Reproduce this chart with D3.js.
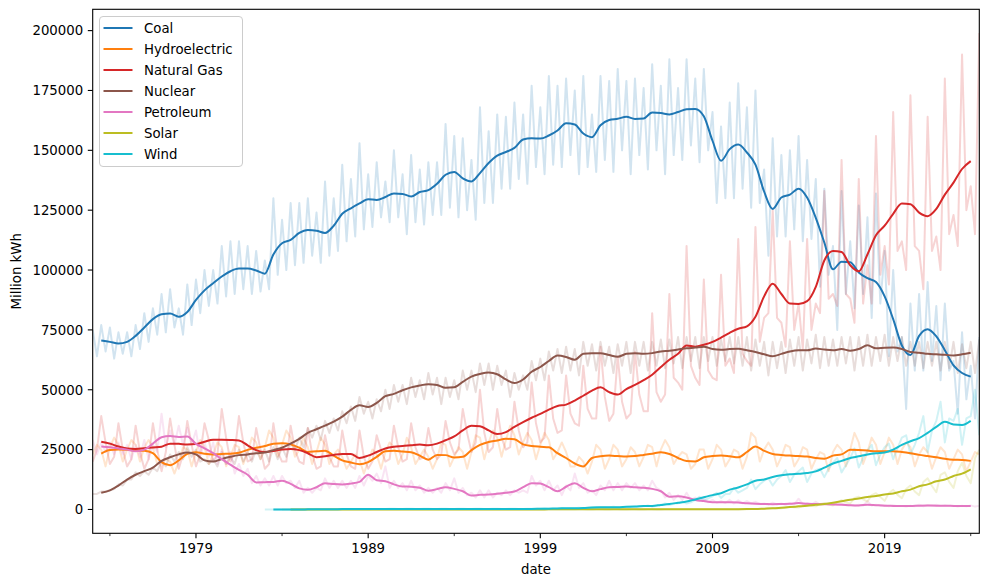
<!DOCTYPE html>
<html><head><meta charset="utf-8">
<script src="https://cdn.jsdelivr.net/npm/d3@7"></script>
<style>
body{margin:0;background:#fff}
svg{display:block}
text{font-family:"DejaVu Sans",sans-serif;fill:#000}
</style>
</head><body>
<svg id="chart" width="989" height="586"></svg>
<script>
// ---------------- DATA (values in thousand million kWh) ----------------
const UNIT = 1000;
const categories = ["Coal","Hydroelectric","Natural Gas","Nuclear","Petroleum","Solar","Wind"];
const colors = ["#1f77b4","#ff7f0e","#d62728","#8c564b","#e377c2","#bcbd22","#17becf"];
const yTickValues = [0,25000,50000,75000,100000,125000,150000,175000,200000];
const majorTickYears = [1979,1989,1999,2009,2019];
const minorTickYears = [1974,1984,1994,2004,2014,2024];
const xDomain = ["1973-01-01","2024-07-01"];

// monthly readings sampled every 3 months (Jan, Apr, Jul, Oct)
const coalRaw = [
75,64,77,66, 76,63,74,65, 74,64,77,67, 82,70,84,73, 90,74,92,76,
84,73,94,77, 96,82,100,85, 100,86,110,89, 112,90,112,92, 110,90,108,91,
104,92,130,98, 121,100,128,102, 128,103,130,106, 124,103,137,106, 130,108,144,112,
138,114,153,117, 140,118,145,122, 137,120,150,122, 140,115,148,120, 142,119,145,123,
145,123,161,126, 156,122,155,125, 146,121,168,128, 158,128,165,134, 164,134,170,138,
165,136,177,143, 168,140,181,144, 177,143,180,148, 175,140,181,143, 165,141,181,146,
179,141,184,150, 179,140,180,148, 176,142,186,150, 177,140,188,148, 176,146,188,152,
180,145,184,150, 166,128,160,130, 170,130,178,134, 168,126,175,128, 142,106,155,114,
148,114,150,117, 156,112,146,113, 138,93,134,98, 110,75,133,90, 112,84,127,90,
122,80,132,86, 108,64,100,66, 72,42,86,58, 90,58,95,62, 85,54,86,58,
62,40,74,46, 60,38,72];
const hydroRaw = [
23,27,25,18, 26,30,27,20, 25,29,27,20, 26,29,26,19, 20,21,20,15,
20,26,25,18, 24,29,26,19, 23,28,26,18, 22,27,26,19, 24,30,28,21,
26,33,30,22, 27,33,30,22, 25,30,26,19, 24,30,27,19, 23,25,22,17,
20,23,21,15, 20,25,23,17, 24,28,26,19, 23,30,26,19, 22,25,22,17,
21,28,27,18, 22,26,24,17, 24,31,30,21, 28,33,30,22, 29,35,31,23,
28,32,29,21, 27,32,29,21, 24,28,24,18, 18,22,20,15, 20,27,25,17,
21,27,25,18, 21,26,24,18, 22,27,26,18, 25,29,26,19, 22,24,23,17,
19,25,25,17, 21,27,25,18, 21,25,24,17, 22,32,30,20, 25,28,25,18,
22,27,26,18, 21,26,25,17, 21,24,23,16, 24,27,25,18, 25,32,28,19,
24,30,27,19, 24,30,27,19, 25,28,26,18, 23,26,24,17, 22,26,24,17,
21,25,23,16, 20,24,23];
const gasRaw = [
20,25,39,28, 19,22,36,25, 18,21,35,24, 17,21,36,25, 16,24,38,27,
17,23,37,27, 18,23,36,29, 20,23,42,30, 20,24,39,28, 20,21,34,25,
17,19,36,24, 20,20,35,25, 20,19,34,23, 17,18,31,22, 18,18,33,23,
18,17,33,22, 17,20,31,25, 20,21,35,26, 20,21,36,26, 21,22,34,25,
21,23,37,28, 23,25,42,32, 24,28,50,32, 24,26,42,30, 25,26,45,33,
26,28,53,36, 28,30,56,38, 32,33,56,40, 36,35,60,42, 38,38,68,47,
37,40,64,45, 38,40,66,48, 41,41,82,49, 45,48,90,55, 53,50,110,60,
55,52,96,58, 55,54,98,60, 63,57,113,65, 62,60,118,70, 80,82,125,80,
78,68,112,75, 86,67,113,75, 86,82,133,88, 90,85,146,90, 88,78,138,86,
102,86,156,98, 110,94,166,108, 112,100,173,110, 108,92,164,108, 114,100,180,115,
123,110,190,125, 135,115,199];
const nuclearRaw = [
6.5,6.5,7.5,7.5, 8,8.5,10.5,10, 12.5,12.5,15.5,14, 16,14.5,17.5,16, 20,18,23,20,
24,21,26,22, 25,20,21,19, 21,18,24,19, 22,19,25,20, 24,20,25,21,
25,20,26,21, 26,22,28,25, 30,26,34,30, 35,29,37,32, 38,33,41,36,
43,37,47,40, 45,38,46,41, 50,42,52,45, 52,44,55,47, 54,46,57,48,
55,44,55,47, 54,46,58,50, 58,49,61,52, 61,50,60,52, 58,47,57,50,
56,50,62,54, 63,54,66,58, 67,57,68,58, 67,56,70,60, 69,58,70,60,
68,57,69,60, 70,57,70,60, 70,58,70,60, 71,59,71,61, 72,59,72,62,
72,59,72,62, 72,60,71,62, 72,61,72,60, 72,58,71,60, 70,56,70,59,
70,57,71,60, 72,58,71,61, 73,59,72,60, 71,60,72,61, 72,58,72,60,
73,60,72,62, 73,60,72,62, 72,60,70,60, 70,59,70,60, 70,58,70,59,
70,57,69,59, 70,57,71];
const petroleumRaw = [
29,23,28,24, 28,23,28,23, 27,21,27,22, 29,21,27,24, 40,26,33,27,
35,27,34,27, 33,22,28,22, 28,19,25,19, 24,15,19,14, 17,11,14,10,
13,10,14,10, 14,11,12,9, 12,7,9,7, 9,8,13,9, 12,9,12,9,
12,9,14,10, 14,12,15,11, 18,9,12,9, 11,8,12,8, 10,7,9,7,
9,7,11,8, 13,7,9,6, 7,5,8,5, 8,5,7,6, 8,6,8,7,
8,7,14,10, 12,8,12,8, 10,6,10,8, 15,9,11,7, 8,6,10,8,
12,8,11,8, 11,9,11,8, 10,8,12,9, 8,5,7,4, 6,4,7,4,
5,3.5,4.5,3, 4,2.8,3.5,2.7, 4,2.5,3.8,2.5, 3.5,2.5,3.2,2.3, 2.5,2,2.8,2.1,
2.5,2,2.6,2.1, 4.5,2.2,2.6,2.1, 3.2,2,2.5,2, 2.3,1.9,2.4,1.8, 2,1.6,2,1.6,
3.5,1.6,2,1.6, 1.8,1.3,1.8,1.4, 1.5,1.2,1.6,1.3, 2,1.3,1.8,1.4, 2,1.4,1.7,1.4,
1.6,1.2,1.6,1.3, 1.7,1.2,1.5];
// solar from 1984-01
const solarRaw = [
0,0,0,0, 0,0,0,0, 0,0,0,0, 0,0,0,0, 0,0,0,0, 0,0,0,0,
0,0,0,0, 0,0,0,0, 0,0,0,0, 0,0,0,0, 0,0,0,0,
0,0,0,0, 0,0,0,0, 0,0,0,0, 0,0,0,0, 0,0,0,0,
0,0,0,0, 0,0.05,0.05,0, 0,0.05,0.05,0, 0,0.05,0.05,0, 0,0.05,0.05,0,
0,0.05,0.05,0, 0,0.05,0.1,0.05, 0.05,0.1,0.1,0.05, 0.05,0.1,0.1,0.05, 0.05,0.1,0.1,0.05,
0.05,0.1,0.15,0.1, 0.1,0.2,0.25,0.2, 0.2,0.4,0.6,0.45, 0.5,0.8,1.1,0.9, 0.8,1.6,1.9,1.5,
1.3,2.3,2.6,2.1, 1.7,3.0,3.9,2.9, 2.5,4.8,5.3,4.2, 3.3,6.0,6.8,5.2, 3.6,6.9,8.2,6.1,
4.7,8.5,10.0,7.5, 6.0,11.5,13.0,9.8, 7.2,14.5,15.5,11.5, 9.0,16.0,19.5,14.0, 11.0,21.5,25.0];
// wind from 1983-01
const windRaw = [
0,0,0,0, 0,0,0,0, 0,0.1,0,0, 0.1,0.1,0.1,0.1, 0.1,0.2,0.1,0.1,
0.1,0.2,0.1,0.1, 0.1,0.2,0.2,0.2, 0.2,0.3,0.3,0.2, 0.2,0.3,0.3,0.2, 0.2,0.3,0.3,0.2,
0.2,0.3,0.3,0.2, 0.2,0.3,0.3,0.2, 0.2,0.3,0.3,0.2, 0.2,0.3,0.3,0.2, 0.2,0.3,0.3,0.2,
0.2,0.3,0.3,0.3, 0.3,0.5,0.4,0.3, 0.4,0.6,0.4,0.5, 0.5,0.7,0.5,0.6, 0.8,1.0,0.8,0.9,
0.8,1.1,0.9,0.9, 1.0,1.4,1.1,1.2, 1.3,1.7,1.2,1.5, 2.0,2.5,1.9,2.4, 2.6,3.3,2.5,3.0,
4.0,5.3,3.8,4.6, 5.5,7.0,4.8,6.5, 6.5,9.0,7.0,8.0, 9.0,12.5,8.5,10.5, 12.0,13.0,10.0,12.5,
14.0,16.5,11.5,14.5, 16.0,17.5,11.5,15.0, 16.5,17.0,13.5,17.0, 19.5,21.5,15.5,18.5, 21.5,25.5,17.5,21.5,
24.5,27.0,18.5,23.0, 26.0,27.5,21.0,25.5, 30.0,31.0,23.0,27.0, 32.0,39.0,24.0,33.0, 37.0,45.0,28.0,38.0,
37.0,42.0,27.0,38.0, 39.0,50.0,31.0];

// 12-month rolling mean, sampled every 6 months (Jan, Jul), starting 1973-07
const coalMean = [70.6,
70.0,69.3, 70.0,72.5, 76.0,79.5, 81.5,81.8, 80.5,82.5, 87.5,91.5, 94.5,97.3, 99.5,100.6, 100.6,99.8, 98.5,106.5,
111.2,112.6, 115.5,116.7, 116.4,115.5, 118.5,123.5, 125.8,127.8, 129.6,129.3, 130.5,132.0, 131.8,130.7, 132.6,133.4, 136.0,139.8,
141.0,138.3, 137.0,140.5, 144.7,147.8, 149.3,151.0, 154.5,155.0, 154.9,156.2, 158.3,161.3, 160.8,157.0, 155.5,160.5, 162.7,163.2,
164.0,163.1, 163.3,165.8, 165.6,165.0, 166.0,167.2, 167.3,164.2, 154.0,145.6, 150.5,152.4, 149.1,144.0, 132.8,125.5, 130.3,131.5,
134.0,130.3, 121.8,111.5, 100.3,103.5, 103.3,99.0, 96.6,95.0, 89.0,79.5, 68.5,64.5, 72.5,75.3, 72.3,66.5, 60.2,57.0, 55.5];
const hydroMean = [23.3,
24.8,25.0, 24.9,24.6, 24.5,23.5, 19.8,18.5, 20.5,23.2, 23.9,23.3, 23.0,23.2, 23.3,23.7, 24.9,25.8, 26.5,27.5,
27.7,27.2, 25.8,24.0, 24.3,24.5, 22.5,20.5, 19.6,18.9, 19.8,22.0, 24.3,24.5, 24.2,23.9, 22.5,20.8, 22.8,22.7,
21.7,22.0, 24.8,27.0, 28.2,28.8, 29.5,29.3, 27.2,26.5, 26.2,26.0, 23.5,21.5, 19.2,18.0, 21.5,22.2, 22.5,22.3,
22.1,22.3, 22.8,23.3, 23.9,23.2, 21.5,20.2, 20.0,21.8, 22.3,22.5, 22.2,21.8, 24.0,26.3, 24.5,23.2, 22.8,22.5,
22.3,22.1, 21.5,21.2, 22.5,23.0, 24.9,24.8, 24.6,24.3, 24.3,24.3, 24.0,23.5, 22.8,22.3, 21.8,21.2, 20.8,20.7, 20.3];
const gasMean = [28.3,
27.5,26.3, 25.5,25.3, 25.6,25.9, 26.2,27.5, 27.4,27.1, 27.3,28.3, 29.1,29.1, 29.0,28.8, 26.8,24.8, 24.0,24.4,
25.0,25.3, 24.8,23.5, 21.8,22.2, 22.8,23.2, 23.2,21.5, 22.5,24.0, 25.5,26.2, 26.5,26.8, 27.1,26.8, 27.5,28.9,
30.5,33.0, 35.0,34.8, 33.0,31.5, 32.3,34.5, 36.5,38.3, 39.9,41.7, 43.2,43.8, 45.5,47.5, 49.6,51.0, 49.0,48.0,
50.3,52.0, 54.0,56.3, 59.5,62.5, 65.0,68.5, 68.0,68.8, 70.0,71.8, 73.8,75.5, 76.5,80.5, 89.0,94.3, 90.0,86.0,
85.8,87.0, 93.0,104.0, 108.0,107.5, 102.0,99.5, 106.5,114.5, 118.5,123.5, 127.8,127.5, 124.0,122.5, 125.5,131.5, 136.5,142.2, 145.5];
const nuclearMean = [7.0,
8.0,10.0, 12.5,14.5, 16.0,17.5, 20.3,21.8, 23.0,23.8, 23.0,20.5, 20.0,21.1, 22.0,22.7, 23.0,23.5, 23.8,24.8,
25.8,27.5, 29.5,32.0, 33.5,35.0, 36.7,38.8, 41.6,43.5, 42.8,44.5, 47.3,48.3, 49.8,51.0, 51.8,52.3, 52.0,50.8,
51.0,53.3, 55.5,56.6, 57.2,56.5, 54.3,52.8, 54.3,57.5, 59.5,62.0, 64.3,63.7, 62.5,65.0, 65.3,65.3, 64.5,63.8,
65.0,65.3, 65.0,65.3, 66.0,66.3, 66.8,67.3, 67.6,68.0, 67.0,66.7, 67.0,67.1, 66.5,65.8, 64.8,64.0, 65.0,66.0,
66.5,66.5, 67.2,66.8, 66.5,67.0, 66.3,67.0, 68.6,67.3, 67.5,67.6, 67.0,65.8, 65.5,65.0, 64.8,64.6, 64.3,64.8, 65.5];
const petroleumMean = [26.3,
26.0,25.5, 25.0,24.3, 25.0,27.5, 30.2,30.7, 30.3,30.5, 27.4,25.5, 23.5,21.0, 18.7,16.5, 14.5,11.3, 11.4,11.5,
12.0,10.7, 8.8,8.2, 9.3,11.0, 10.6,10.4, 10.8,11.5, 14.5,12.2, 11.8,10.5, 9.6,9.5, 9.1,7.8, 8.5,9.3,
8.6,7.6, 5.8,6.1, 6.3,6.6, 7.0,7.5, 9.3,11.0, 10.8,9.3, 7.6,9.5, 11.0,9.0, 7.6,8.5, 9.3,9.4,
9.6,9.3, 9.1,8.6, 7.6,5.3, 5.5,5.0, 4.0,3.5, 3.0,3.0, 3.0,2.9, 2.6,2.4, 2.3,2.2, 2.3,2.4,
2.7,2.4, 2.3,2.2, 2.1,2.0, 1.8,1.7, 2.0,1.8, 1.6,1.5, 1.4,1.4, 1.6,1.7, 1.6,1.6, 1.5,1.4, 1.4];
// solar mean starts 1984-07
const solarMean = [0,
0,0, 0,0, 0,0, 0,0, 0,0, 0,0, 0,0, 0,0, 0,0, 0,0,
0,0, 0,0, 0,0, 0,0, 0,0.05, 0.05,0.05, 0.05,0.05, 0.05,0.05, 0.05,0.05, 0.05,0.05,
0.05,0.05, 0.05,0.05, 0.05,0.05, 0.05,0.06, 0.06,0.07,
0.08,0.1, 0.15,0.2, 0.35,0.5, 0.75,1.0, 1.3,1.6, 2.0,2.3, 2.8,3.4, 4.1,4.6, 5.2,5.6, 6.3,6.7,
7.6,8.3, 9.7,10.5, 11.8,12.5, 14.0,15.0, 16.8];
// wind mean starts 1983-07
const windMean = [0,
0,0, 0,0.05, 0.1,0.1, 0.1,0.15, 0.15,0.15, 0.15,0.2, 0.25,0.25, 0.25,0.25, 0.25,0.25, 0.25,0.25,
0.25,0.25, 0.25,0.25, 0.25,0.25, 0.25,0.25, 0.25,0.25, 0.3,0.35, 0.45,0.48, 0.5,0.6, 0.8,0.9, 0.92,0.95,
1.1,1.2, 1.4,1.5, 1.9,2.3, 2.8,3.3, 4.2,5.1, 6.0,6.8, 8.3,9.2, 10.5,12.0, 12.5,13.6, 14.3,14.7,
14.9,15.2, 15.9,17.5, 19.2,20.3, 21.5,22.2, 23.0,23.5, 23.8,25.0, 27.0,28.5, 29.8,32.0, 34.5,36.6, 35.5,35.3, 37.0];

const seriesDefs = [
  {raw: coalRaw,      rawStart: "1973-01-01", mean: coalMean,      meanStart: "1973-07-01"},
  {raw: hydroRaw,     rawStart: "1973-01-01", mean: hydroMean,     meanStart: "1973-07-01"},
  {raw: gasRaw,       rawStart: "1973-01-01", mean: gasMean,       meanStart: "1973-07-01"},
  {raw: nuclearRaw,   rawStart: "1973-01-01", mean: nuclearMean,   meanStart: "1973-07-01"},
  {raw: petroleumRaw, rawStart: "1973-01-01", mean: petroleumMean, meanStart: "1973-07-01"},
  {raw: solarRaw,     rawStart: "1984-01-01", mean: solarMean,     meanStart: "1984-07-01"},
  {raw: windRaw,      rawStart: "1983-01-01", mean: windMean,      meanStart: "1983-07-01"}
];

// ---------------- LAYOUT ----------------
const P = {left: 92.7, right: 979.3, top: 9.3, bottom: 533.3};
const svg = d3.select("#chart");
const parseDate = d3.timeParse("%Y-%m-%d");

const x = d3.scaleTime().domain(xDomain.map(parseDate)).range([P.left, P.right]);
const y = d3.scaleLinear().domain([-9950, 208900]).range([P.bottom, P.top]);

const toPoints = (vals, start, stepMonths) => {
  const s = parseDate(start);
  return vals.map((v, i) => ({date: d3.timeMonth.offset(s, i * stepMonths), v: v * UNIT}));
};

const rawLine = d3.line().x(d => x(d.date)).y(d => y(d.v)).curve(d3.curveLinear);
const meanLine = d3.line().x(d => x(d.date)).y(d => y(d.v)).curve(d3.curveMonotoneX);

svg.append("clipPath").attr("id", "clip").append("rect")
  .attr("x", P.left).attr("y", P.top).attr("width", P.right - P.left).attr("height", P.bottom - P.top);

const plot = svg.append("g").attr("clip-path", "url(#clip)");

// raw monthly (faint)
seriesDefs.forEach((s, i) => {
  plot.append("path").datum(toPoints(s.raw, s.rawStart, 3))
    .attr("d", rawLine).attr("fill", "none").attr("stroke", colors[i])
    .attr("stroke-opacity", 0.2).attr("stroke-width", 2).attr("stroke-linejoin", "round");
});
// rolling mean (solid)
seriesDefs.forEach((s, i) => {
  plot.append("path").datum(toPoints(s.mean, s.meanStart, 6))
    .attr("d", meanLine).attr("fill", "none").attr("stroke", colors[i])
    .attr("stroke-width", 2).attr("stroke-linejoin", "round");
});

// frame
svg.append("rect").attr("x", P.left).attr("y", P.top)
  .attr("width", P.right - P.left).attr("height", P.bottom - P.top)
  .attr("fill", "none").attr("stroke", "#000").attr("stroke-width", 1.1);

// y ticks
const fs = 13.3;
const yt = svg.append("g");
yTickValues.forEach(v => {
  const yy = y(v);
  yt.append("line").attr("x1", P.left - 4.9).attr("x2", P.left).attr("y1", yy).attr("y2", yy)
    .attr("stroke", "#000").attr("stroke-width", 1.1);
  yt.append("text").attr("x", P.left - 9.5).attr("y", yy).attr("dy", "0.36em")
    .attr("text-anchor", "end").attr("font-size", fs).text(d3.format("d")(v));
});

// x ticks
const xt = svg.append("g");
majorTickYears.forEach(yr => {
  const xx = x(new Date(yr, 0, 1));
  xt.append("line").attr("x1", xx).attr("x2", xx).attr("y1", P.bottom).attr("y2", P.bottom + 4.9)
    .attr("stroke", "#000").attr("stroke-width", 1.1);
  xt.append("text").attr("x", xx).attr("y", P.bottom + 20).attr("text-anchor", "middle")
    .attr("font-size", fs).text(String(yr));
});
minorTickYears.forEach(yr => {
  const xx = x(new Date(yr, 0, 1));
  xt.append("line").attr("x1", xx).attr("x2", xx).attr("y1", P.bottom).attr("y2", P.bottom + 2.8)
    .attr("stroke", "#000").attr("stroke-width", 0.8);
});

// axis labels
svg.append("text").attr("x", (P.left + P.right) / 2).attr("y", 574)
  .attr("text-anchor", "middle").attr("font-size", fs).text("date");
svg.append("text").attr("transform", `translate(21,${(P.top + P.bottom) / 2}) rotate(-90)`)
  .attr("text-anchor", "middle").attr("font-size", fs).text("Million kWh");

// legend
const lg = svg.append("g");
lg.append("rect").attr("x", 99.5).attr("y", 16.5).attr("width", 143).attr("height", 150)
  .attr("rx", 3.5).attr("fill", "#fff").attr("fill-opacity", 0.8)
  .attr("stroke", "#cccccc").attr("stroke-width", 1);
categories.forEach((c, i) => {
  const yy = 28 + i * 21;
  lg.append("line").attr("x1", 103.5).attr("x2", 132.5).attr("y1", yy).attr("y2", yy)
    .attr("stroke", colors[i]).attr("stroke-width", 2);
  lg.append("text").attr("x", 144).attr("y", yy).attr("dy", "0.36em")
    .attr("font-size", fs).text(c);
});
</script>
</body></html>
